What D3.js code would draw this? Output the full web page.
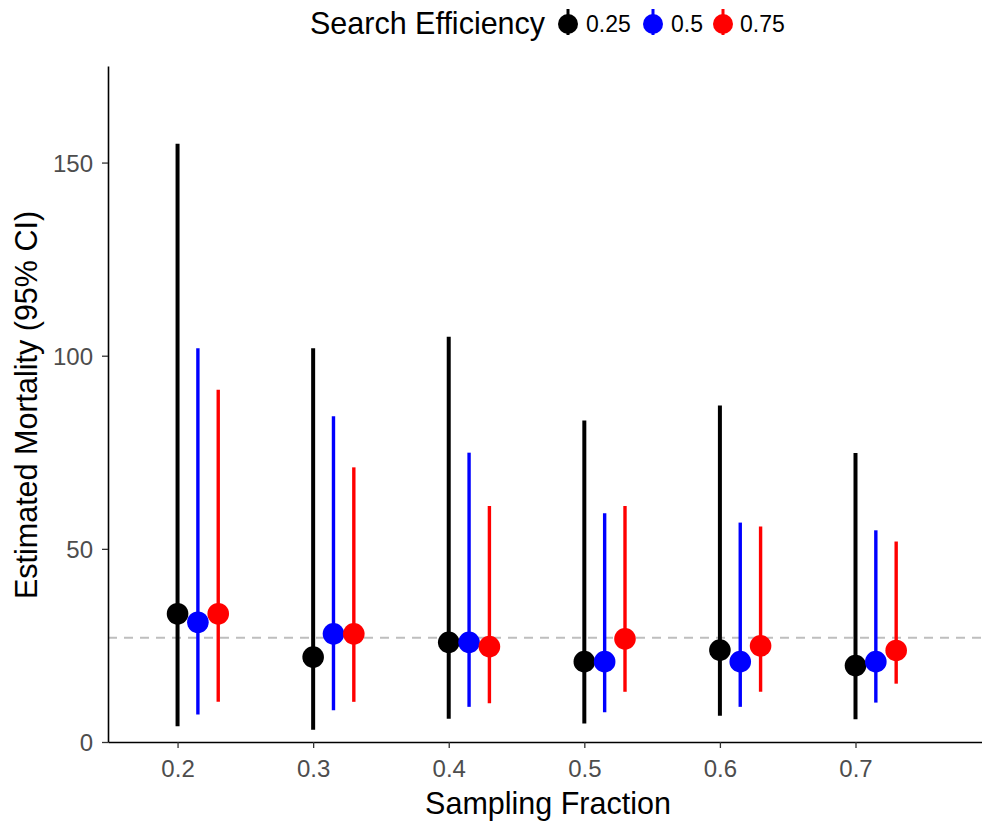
<!DOCTYPE html>
<html>
<head>
<meta charset="utf-8">
<script src="https://cdn.jsdelivr.net/npm/d3@7"></script>
<style>
  html, body { margin: 0; padding: 0; background: #fff; }
  svg { display: block; font-family: "Liberation Sans", Arial, sans-serif; }
</style>
</head>
<body>
<svg id="chart" width="982" height="821"></svg>
<script>
// ---- data ----
const samplingFractions = [0.2, 0.3, 0.4, 0.5, 0.6, 0.7];
const efficiencies = ["0.25", "0.5", "0.75"];
const seriesColors = ["#000000", "#0000FF", "#FF0000"];
const dodgeOffsets = [0, 0.015, 0.03];

const est25 = [33.2, 22.0, 25.8, 20.8, 23.8, 19.8];
const lo25  = [4.1, 3.2, 6.0, 4.8, 6.8, 5.9];
const hi25  = [154.9, 101.9, 104.9, 83.2, 87.1, 74.8];

const est50 = [31.0, 28.0, 25.8, 20.8, 20.8, 20.8];
const lo50  = [7.1, 8.2, 9.1, 7.7, 9.1, 10.2];
const hi50  = [101.9, 84.3, 74.9, 59.2, 56.8, 54.8];

const est75 = [33.2, 28.0, 24.7, 26.7, 24.9, 23.7];
const lo75  = [10.4, 10.4, 10.0, 13.0, 13.0, 15.1];
const hi75  = [91.2, 71.1, 61.1, 61.1, 55.8, 51.9];

const referenceLine = 27;
const yTicks = [0, 50, 100, 150];
const xTicks = [0.2, 0.3, 0.4, 0.5, 0.6, 0.7];

const seriesEst = [est25, est50, est75];
const seriesLo = [lo25, lo50, lo75];
const seriesHi = [hi25, hi50, hi75];

// ---- layout ----
const svg = d3.select("#chart");
const pLeft = 108, pRight = 982, pTop = 66, pBottom = 742;

const x = d3.scaleLinear().domain([0.1487, 0.7933]).range([pLeft, pRight]);
const y = d3.scaleLinear().domain([0, 175]).range([pBottom, pTop]);

// reference dashed line
svg.append("line")
  .attr("x1", pLeft).attr("x2", pRight)
  .attr("y1", y(referenceLine)).attr("y2", y(referenceLine))
  .attr("stroke", "#BEBEBE").attr("stroke-width", 2)
  .attr("stroke-dasharray", "9,7");

// axes
const xAxis = d3.axisBottom(x).tickValues(xTicks).tickFormat(d3.format(".1f")).tickSize(6).tickSizeOuter(0);
const yAxis = d3.axisLeft(y).tickValues(yTicks).tickFormat(d3.format("d")).tickSize(6).tickSizeOuter(0);

const gx = svg.append("g").attr("transform", `translate(0,${pBottom})`).call(xAxis);
const gy = svg.append("g").attr("transform", `translate(${pLeft},0)`).call(yAxis);

[gx, gy].forEach(g => {
  g.select(".domain").attr("stroke", "#000").attr("stroke-width", 1.6);
  g.selectAll(".tick line").attr("stroke", "#333").attr("stroke-width", 1.3);
  g.selectAll(".tick text").attr("fill", "#4D4D4D").attr("font-size", 24)
    .attr("font-family", "'Liberation Sans', Arial, sans-serif");
});
gx.selectAll(".tick text").attr("dy", null).attr("y", 35);
gy.selectAll(".tick text").attr("x", -15).attr("dy", "0.36em");

// series
efficiencies.forEach((eff, i) => {
  const g = svg.append("g");
  const rows = samplingFractions.map((sf, j) => ({
    x: sf + dodgeOffsets[i], est: seriesEst[i][j], lo: seriesLo[i][j], hi: seriesHi[i][j]
  }));
  g.selectAll("line").data(rows).enter().append("line")
    .attr("x1", d => x(d.x)).attr("x2", d => x(d.x))
    .attr("y1", d => y(d.lo)).attr("y2", d => y(d.hi))
    .attr("stroke", seriesColors[i]).attr("stroke-width", i === 0 ? 4 : 3.4);
  g.selectAll("circle").data(rows).enter().append("circle")
    .attr("cx", d => x(d.x)).attr("cy", d => y(d.est))
    .attr("r", 10.8).attr("fill", seriesColors[i]);
});

// axis titles
svg.append("text")
  .attr("x", 548).attr("y", 814)
  .attr("text-anchor", "middle").attr("font-size", 30.5).attr("fill", "#000")
  .text("Sampling Fraction");
svg.append("text")
  .attr("transform", "translate(37,405) rotate(-90)")
  .attr("text-anchor", "middle").attr("font-size", 30.5).attr("fill", "#000")
  .text("Estimated Mortality (95% CI)");

// legend
const legend = svg.append("g");
legend.append("text")
  .attr("x", 310).attr("y", 34)
  .attr("font-size", 30.5).attr("fill", "#000")
  .text("Search Efficiency");
const keyX = [568, 653, 723];
const labelX = [586, 671, 740];
efficiencies.forEach((eff, i) => {
  legend.append("line")
    .attr("x1", keyX[i]).attr("x2", keyX[i])
    .attr("y1", 9).attr("y2", 35)
    .attr("stroke", seriesColors[i]).attr("stroke-width", 3);
  legend.append("circle")
    .attr("cx", keyX[i]).attr("cy", 24).attr("r", 10)
    .attr("fill", seriesColors[i]);
  legend.append("text")
    .attr("x", labelX[i]).attr("y", 32)
    .attr("font-size", 23).attr("fill", "#000")
    .text(eff);
});
</script>
</body>
</html>
